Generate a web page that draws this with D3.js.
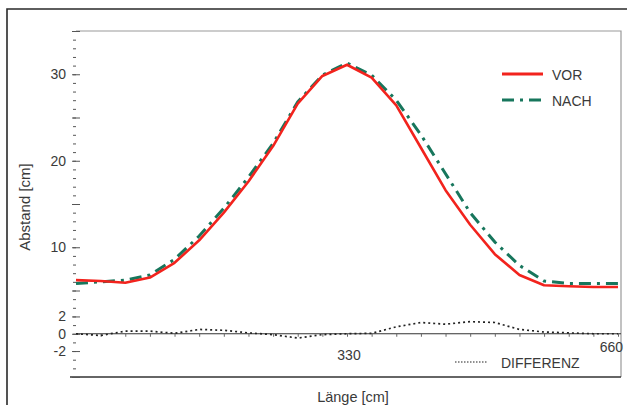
<!DOCTYPE html>
<html>
<head>
<meta charset="utf-8">
<script src="https://cdn.jsdelivr.net/npm/d3@7"></script>
<style>
  html, body { margin: 0; padding: 0; background: #fff; }
  svg { display: block; font-family: "Liberation Sans", Arial, sans-serif; }
</style>
</head>
<body>
<svg id="chart" width="627" height="405"></svg>
<script>
// Measuring positions along the length [cm]
const laenge = [0, 30, 60, 90, 120, 150, 180, 210, 240, 270, 300, 330,
                360, 390, 420, 450, 480, 510, 540, 570, 600, 630, 660];
// Distance before the adjustment [cm]
const vor = [6.2, 6.1, 5.9, 6.5, 8.2, 10.8, 14.0, 17.6, 21.7, 26.6, 29.8, 31.1,
             29.6, 26.4, 21.5, 16.6, 12.6, 9.2, 6.8, 5.6, 5.5, 5.4, 5.4];
// Distance after the adjustment [cm]
const nach = [5.8, 6.0, 6.2, 6.8, 8.6, 11.3, 14.5, 18.1, 22.0, 26.8, 29.9, 31.3,
              29.9, 27.0, 23.0, 18.5, 14.0, 10.6, 7.9, 6.1, 5.8, 5.8, 5.8];
// Difference between both measurements [cm]
const differenz = [0, -0.2, 0.3, 0.3, 0.05, 0.5, 0.4, 0.1, -0.1, -0.5, -0.1, 0,
                   0.05, 0.8, 1.3, 1.1, 1.4, 1.3, 0.5, 0.2, 0.1, 0, 0];

const yLabelTicks = [-2, 0, 2, 10, 20, 30];
const xLabelTicks = [330, 660];
const legendNames = ["VOR", "NACH", "DIFFERENZ"];

const svg = d3.select("#chart");
const textColor = "#3a3a3a";
const red = "#f2231d";
const green = "#17765c";

const plotLeft = 76, plotRight = 618, plotTop = 31, plotBottom = 377, frameRight = 621;
const x = d3.scaleLinear().domain([0, 660]).range([plotLeft, plotRight]);
const y = d3.scaleLinear().domain([-5, 35]).range([plotBottom, plotTop]);

// outer frame
svg.append("path")
  .attr("d", "M7,405 L7,9 L627,9")
  .attr("fill", "none").attr("stroke", "#2a2a2a").attr("stroke-width", 1.6);

// plot frame
svg.append("path")
  .attr("d", `M${plotLeft},${plotTop} L${frameRight},${plotTop} L${frameRight},${plotBottom}`)
  .attr("fill", "none").attr("stroke", "#9a9a9a").attr("stroke-width", 1.2);
svg.append("line")
  .attr("x1", 70).attr("x2", frameRight).attr("y1", plotBottom).attr("y2", plotBottom)
  .attr("stroke", "#333").attr("stroke-width", 1.6);

// y axis: minor ticks every 1 cm, major every 5 cm
const minorAxis = d3.axisLeft(y).tickValues(d3.range(-5, 36, 1)).tickSize(3).tickFormat("");
const gMinor = svg.append("g").attr("transform", `translate(${plotLeft},0)`).call(minorAxis);
const majorAxis = d3.axisLeft(y).tickValues(d3.range(-5, 36, 5).concat([2, -2])).tickSize(8).tickFormat("");
const gMajor = svg.append("g").attr("transform", `translate(${plotLeft + 4},0)`).call(majorAxis);
const labelAxis = d3.axisLeft(y).tickValues(yLabelTicks).tickSize(0).tickPadding(10)
  .tickFormat(d => String(d));
const gLabels = svg.append("g").attr("transform", `translate(${plotLeft},0)`).call(labelAxis);
[gMinor, gMajor, gLabels].forEach(g => {
  g.select(".domain").remove();
  g.selectAll(".tick line").attr("stroke", "#555").attr("stroke-width", 1);
});
gLabels.selectAll("text").attr("fill", textColor).attr("font-size", 14)
  .attr("font-family", "Liberation Sans, Arial, sans-serif");

// zero line with x ticks
svg.append("line")
  .attr("x1", plotLeft).attr("x2", frameRight).attr("y1", y(0)).attr("y2", y(0))
  .attr("stroke", "#333").attr("stroke-width", 1);
const xTickAxis = d3.axisBottom(x).tickValues(d3.range(30, 661, 30)).tickSize(3).tickFormat("");
const gx = svg.append("g").attr("transform", `translate(0,${y(0)})`).call(xTickAxis);
gx.select(".domain").remove();
gx.selectAll(".tick line").attr("stroke", "#666");

// x tick labels
svg.append("text").attr("x", x(xLabelTicks[0]) + 2).attr("y", 360)
  .attr("text-anchor", "middle").attr("font-size", 14).attr("fill", textColor)
  .text(xLabelTicks[0]);
svg.append("text").attr("x", 623).attr("y", 352)
  .attr("text-anchor", "end").attr("font-size", 14).attr("fill", textColor)
  .text(xLabelTicks[1]);

// axis titles
svg.append("text")
  .attr("transform", "translate(30,207) rotate(-90)")
  .attr("text-anchor", "middle").attr("font-size", 15).attr("fill", textColor)
  .text("Abstand [cm]");
svg.append("text")
  .attr("x", 353).attr("y", 402)
  .attr("text-anchor", "middle").attr("font-size", 14.5).attr("fill", textColor)
  .text("Länge [cm]");

// series
const line = d3.line().x((d, i) => x(laenge[i])).y(d => y(d));

svg.append("path").datum(differenz)
  .attr("d", line).attr("fill", "none")
  .attr("stroke", "#222").attr("stroke-width", 1.7)
  .attr("stroke-dasharray", "2,3");

svg.append("path").datum(nach)
  .attr("d", line).attr("fill", "none")
  .attr("stroke", green).attr("stroke-width", 3)
  .attr("stroke-dasharray", "12,6,3,6");

svg.append("path").datum(vor)
  .attr("d", line).attr("fill", "none")
  .attr("stroke", red).attr("stroke-width", 2.6)
  .attr("stroke-linejoin", "round");

// legend
const lg = svg.append("g");
lg.append("line").attr("x1", 502).attr("x2", 543).attr("y1", 74).attr("y2", 74)
  .attr("stroke", red).attr("stroke-width", 3);
lg.append("text").attr("x", 552).attr("y", 80).attr("font-size", 14)
  .attr("fill", textColor).text(legendNames[0]);
lg.append("line").attr("x1", 502).attr("x2", 543).attr("y1", 100).attr("y2", 100)
  .attr("stroke", green).attr("stroke-width", 3)
  .attr("stroke-dasharray", "12,6,3,6");
lg.append("text").attr("x", 552).attr("y", 106).attr("font-size", 14)
  .attr("fill", textColor).text(legendNames[1]);
lg.append("line").attr("x1", 455).attr("x2", 488).attr("y1", 362).attr("y2", 362)
  .attr("stroke", "#222").attr("stroke-width", 1.2)
  .attr("stroke-dasharray", "1.5,1.5");
lg.append("text").attr("x", 501).attr("y", 368).attr("font-size", 14)
  .attr("fill", textColor).text(legendNames[2]);
</script>
</body>
</html>
